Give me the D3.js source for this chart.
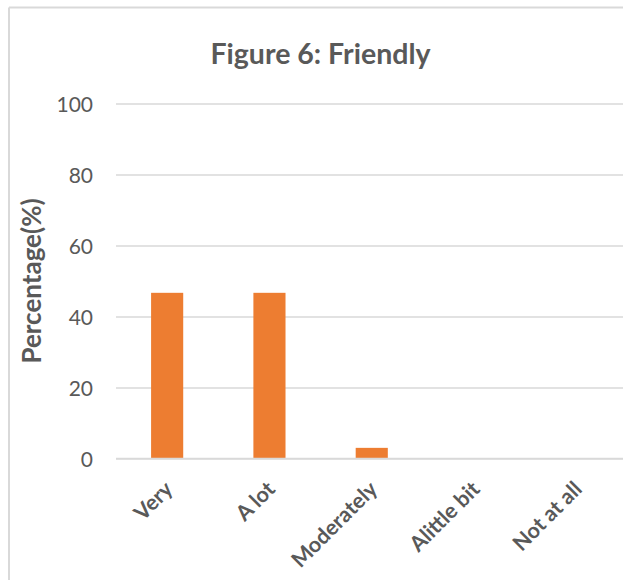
<!DOCTYPE html>
<html>
<head>
<meta charset="utf-8">
<script src="https://cdn.jsdelivr.net/npm/d3@7"></script>
<style>
  html, body { margin: 0; padding: 0; background: #fff; overflow: hidden; }
  svg { display: block; }
  text { font-family: Lato, "Open Sans", sans-serif; fill: #595959; }
</style>
</head>
<body>
<svg id="chart" width="623" height="580"></svg>
<script>
// Survey responses: share of respondents per rating
const categories = ["Very", "A lot", "Moderately", "Alittle bit", "Not at all"];
const percentages = [46.67, 46.67, 3, 0, 0];
const yTicks = [0, 20, 40, 60, 80, 100];
const chartTitle = "Figure 6: Friendly";
const yAxisTitle = "Percentage(%)";

const svg = d3.select("#chart");
const W = 623, H = 580;

// frame of the chart area (left and top edges)
svg.append("line").attr("x1", 9).attr("y1", 7.5).attr("x2", W).attr("y2", 7.5)
  .attr("stroke", "#d9d9d9").attr("stroke-width", 2);
svg.append("line").attr("x1", 9).attr("y1", 7.5).attr("x2", 9).attr("y2", H)
  .attr("stroke", "#d9d9d9").attr("stroke-width", 2);

const plot = { left: 116, right: 627.5, top: 103.5, bottom: 458.5 };

const x = d3.scaleBand().domain(categories)
  .range([plot.left, plot.right]).paddingInner(0.686).paddingOuter(0.343);
const y = d3.scaleLinear().domain([0, 100]).range([plot.bottom, plot.top]);

// horizontal gridlines + tick labels
const yAxis = d3.axisLeft(y).tickValues(yTicks)
  .tickSize(-(plot.right - plot.left)).tickPadding(23);
const gy = svg.append("g").attr("transform", `translate(${plot.left},0)`).call(yAxis);
gy.select(".domain").remove();
gy.selectAll(".tick line").attr("stroke", "#d9d9d9").attr("stroke-width", 1.5);
gy.selectAll(".tick text")
  .style("font-size", "21px").style("fill", "#595959")
  .attr("dy", "0.36em");

// bars
svg.append("g").selectAll("rect").data(categories).join("rect")
  .attr("x", d => x(d))
  .attr("width", x.bandwidth())
  .attr("y", (d, i) => y(percentages[i]))
  .attr("height", (d, i) => y(0) - y(percentages[i]))
  .attr("fill", "#ED7D31");

// category axis with rotated labels
const xAxis = d3.axisBottom(x).tickSize(0).tickPadding(0);
const gx = svg.append("g").attr("transform", `translate(0,${plot.bottom})`).call(xAxis);
gx.select(".domain").attr("stroke", "#d9d9d9").attr("stroke-width", 1.5)
  .attr("d", `M${plot.left},0H${plot.right}`);
gx.selectAll(".tick text")
  .style("font-size", "21.5px").style("font-weight", "bold").style("fill", "#595959")
  .attr("text-anchor", "end")
  .attr("dy", null).attr("y", null)
  .attr("transform", "translate(7,32) rotate(-45)");

// titles
svg.append("text").attr("x", 320.5).attr("y", 63.5)
  .attr("text-anchor", "middle")
  .style("font-size", "28.5px").style("font-weight", "bold")
  .text(chartTitle);

svg.append("text")
  .attr("transform", `translate(41,${(plot.top + plot.bottom) / 2}) rotate(-90)`)
  .attr("text-anchor", "middle")
  .style("font-size", "26px").style("font-weight", "bold")
  .text(yAxisTitle);
</script>
</body>
</html>
